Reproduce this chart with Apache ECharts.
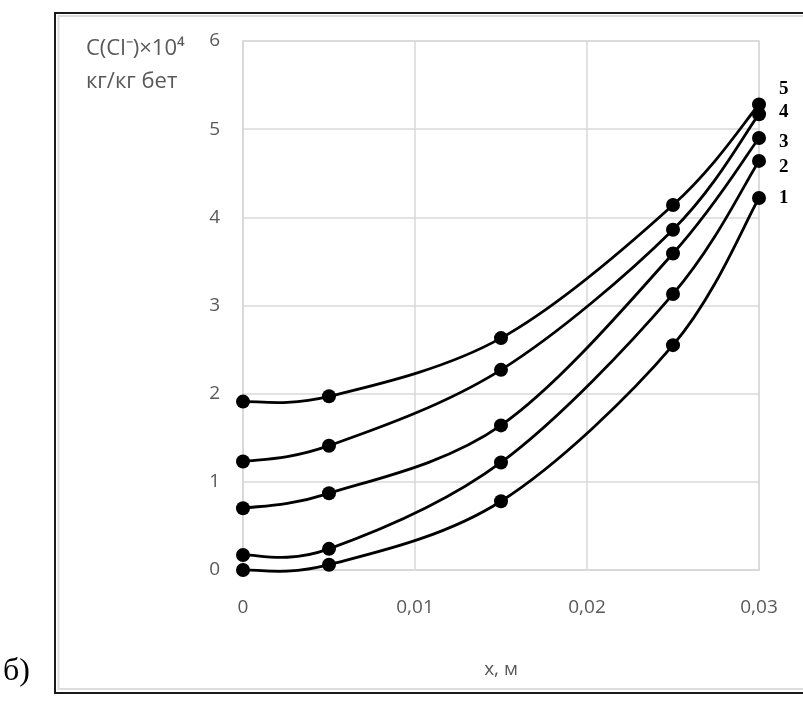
<!DOCTYPE html>
<html>
<head>
<meta charset="utf-8">
<script src="https://cdn.jsdelivr.net/npm/echarts@6/dist/echarts.min.js"></script>
<style>
  html, body { margin: 0; padding: 0; background: #ffffff; }
  #chart { width: 803px; height: 702px; }
</style>
</head>
<body>
<div id="chart"></div>
<script>
// Distance from the surface, m
const xValues = [0, 0.005, 0.015, 0.025, 0.03];

// Chloride concentration profiles, C(Cl-)×10^4 kg/kg concrete
const curve1 = [0.00, 0.06, 0.78, 2.55, 4.22];
const curve2 = [0.17, 0.24, 1.22, 3.13, 4.64];
const curve3 = [0.70, 0.87, 1.64, 3.59, 4.90];
const curve4 = [1.23, 1.41, 2.27, 3.86, 5.17];
const curve5 = [1.91, 1.97, 2.63, 4.14, 5.28];

const curveNames = ['1', '2', '3', '4', '5'];
const curves = [curve1, curve2, curve3, curve4, curve5];

// Axis settings
const xTicks = { min: 0, max: 0.03, interval: 0.01 };
const yTicks = { min: 0, max: 6, interval: 1 };

// Vertical nudges of the curve numbers at the right-hand end
const endLabelShift = [0, 6, 4, -2, -15];

const gray = '#595959';
const gridGray = '#d9d9d9';

const chart = echarts.init(document.getElementById('chart'), null, { renderer: 'canvas' });

// Smoothed connector: Catmull-Rom style cubic segment between consecutive
// measured points, with tangents taken from the neighbouring points (1/6 rule).
function smoothSegment(vals) {
  return function (params, api) {
    const i = params.dataIndex;
    const n = xValues.length;
    if (i >= n - 1) return null;
    const pt = k => api.coord([xValues[Math.max(0, Math.min(n - 1, k))],
                               vals[Math.max(0, Math.min(n - 1, k))]]);
    const p0 = pt(i - 1), p1 = pt(i), p2 = pt(i + 1), p3 = pt(i + 2);
    return {
      type: 'bezierCurve',
      shape: {
        x1: p1[0], y1: p1[1],
        x2: p2[0], y2: p2[1],
        cpx1: p1[0] + (p2[0] - p0[0]) / 6,
        cpy1: p1[1] + (p2[1] - p0[1]) / 6,
        cpx2: p2[0] - (p3[0] - p1[0]) / 6,
        cpy2: p2[1] - (p3[1] - p1[1]) / 6
      },
      style: { fill: null, stroke: '#000', lineWidth: 2.8 },
      silent: true
    };
  };
}

const series = [];
curves.forEach((vals, i) => {
  const pts = xValues.map((x, j) => [x, vals[j]]);
  series.push({
    name: curveNames[i] + '-curve',
    type: 'custom',
    data: pts,
    encode: { x: 0, y: 1 },
    renderItem: smoothSegment(vals),
    z: 2
  });
  series.push({
    name: curveNames[i],
    type: 'line',
    data: pts,
    symbol: 'circle',
    symbolSize: 14,
    lineStyle: { width: 0, opacity: 0 },
    itemStyle: { color: '#000' },
    z: 3,
    endLabel: {
      show: true,
      formatter: '{a}',
      offset: [12, endLabelShift[i]],
      color: '#000',
      fontFamily: 'Liberation Serif',
      fontWeight: 'bold',
      fontSize: 19
    }
  });
});

chart.setOption({
  animation: false,
  backgroundColor: '#ffffff',
  grid: { left: 243, top: 41, right: 44, bottom: 132, show: true, borderColor: gridGray, borderWidth: 1.5 },
  title: {
    text: 'C(Cl⁻)×10⁴',
    subtext: 'кг/кг бет',
    left: 86,
    top: 38,
    itemGap: 11,
    textStyle: { color: gray, fontSize: 22, fontWeight: 'normal', fontFamily: 'Open Sans' },
    subtextStyle: { color: gray, fontSize: 22, fontFamily: 'Open Sans' },
    padding: 0,
    textAlign: 'left'
  },
  xAxis: {
    type: 'value',
    min: xTicks.min,
    max: xTicks.max,
    interval: xTicks.interval,
    name: 'x, м',
    nameLocation: 'middle',
    nameGap: 90,
    nameTextStyle: { color: gray, fontSize: 19, fontFamily: 'Open Sans' },
    axisLine: { show: true, lineStyle: { color: gridGray, width: 1.5 } },
    axisTick: { show: false },
    splitLine: { show: true, lineStyle: { color: gridGray, width: 1.5 } },
    axisLabel: {
      color: gray,
      fontSize: 19,
      fontFamily: 'Open Sans',
      margin: 28,
      formatter: v => String(+v.toFixed(3)).replace('.', ',')
    }
  },
  yAxis: {
    type: 'value',
    min: yTicks.min,
    max: yTicks.max,
    interval: yTicks.interval,
    axisLine: { show: true, lineStyle: { color: gridGray, width: 1.5 } },
    axisTick: { show: false },
    splitLine: { show: true, lineStyle: { color: gridGray, width: 1.5 } },
    axisLabel: { color: gray, fontSize: 19, fontFamily: 'Open Sans', margin: 23 }
  },
  graphic: [
    // outer frame of the figure panel
    {
      type: 'rect',
      shape: { x: 55, y: 13, width: 800, height: 680 },
      style: { fill: 'none', stroke: '#1a1a1a', lineWidth: 2 },
      silent: true,
      z: 0
    },
    {
      type: 'rect',
      shape: { x: 58.5, y: 16, width: 800, height: 673 },
      style: { fill: 'none', stroke: '#dcdcdc', lineWidth: 2 },
      silent: true,
      z: 0
    },
    // panel letter
    {
      type: 'text',
      left: 3,
      top: 656,
      style: { text: 'б)', fill: '#000', font: '32px "Liberation Serif"' },
      z: 5
    }
  ],
  series: series
});
</script>
</body>
</html>
